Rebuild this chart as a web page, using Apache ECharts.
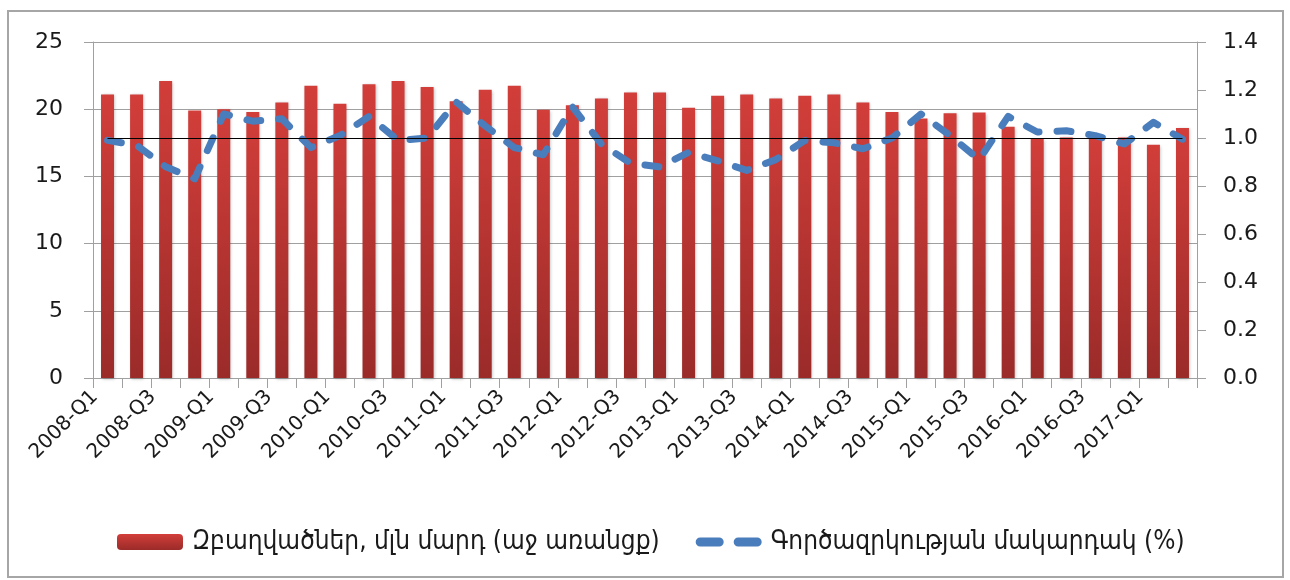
<!DOCTYPE html>
<html>
<head>
<meta charset="utf-8">
<script src="https://cdn.jsdelivr.net/npm/echarts@6/dist/echarts.min.js"></script>
<style>
  html, body { margin: 0; padding: 0; background: #fff; }
  #chart { width: 1290px; height: 580px; }
</style>
</head>
<body>
<div id="chart"></div>
<script>
// quarters 2008-Q1 .. 2017-Q2
var quarters = [];
for (var y = 2008; y <= 2017; y++) {
    for (var q = 1; q <= 4; q++) {
        if (y === 2017 && q > 2) break;
        quarters.push(y + "-Q" + q);
    }
}

// Զբաղվածներ, մլն մարդ (left axis)
var employed = [
    21.1, 21.1, 22.1, 19.9, 20.0, 19.8, 20.5, 21.75, 20.4, 21.85,
    22.1, 21.65, 20.6, 21.45, 21.75, 19.95, 20.3, 20.8, 21.25, 21.25,
    20.1, 21.0, 21.1, 20.8, 21.0, 21.1, 20.5, 19.8, 19.3, 19.7,
    19.75, 18.7, 17.8, 17.9, 18.0, 17.9, 17.35, 18.6
];

// Գործազրկության մակարդակ (%) (right axis)
var unemployment = [
    0.99, 0.97, 0.88, 0.83, 1.10, 1.07, 1.08, 0.96, 1.01, 1.09,
    0.99, 1.00, 1.15, 1.05, 0.96, 0.93, 1.13, 0.975, 0.895, 0.88,
    0.94, 0.905, 0.865, 0.91, 0.99, 0.98, 0.955, 1.00, 1.10, 1.01,
    0.91, 1.09, 1.025, 1.03, 1.01, 0.975, 1.065, 0.995
];

var legendNames = ["Զբաղվածներ, մլն մարդ (աջ առանցք)", "Գործազրկության մակարդակ (%)"];

var chart = echarts.init(document.getElementById("chart"));

var textColor = "#1a1a1a";
var font = "DejaVu Sans";
var lineBlue = "#4a7dbb";

// two rounded dashes for the legend icon of the line
var dashIcon = "path://M4.5,0 H23.5 A4.5,4.5 0 0 1 23.5,9 H4.5 A4.5,4.5 0 0 1 4.5,0 Z " +
               "M42.5,0 H61.5 A4.5,4.5 0 0 1 61.5,9 H42.5 A4.5,4.5 0 0 1 42.5,0 Z";

var option = {
    backgroundColor: "#fff",
    animation: false,
    graphic: [{
        type: "rect",
        shape: { x: 8, y: 11, width: 1275, height: 566 },
        style: { fill: "none", stroke: "#a6a6a6", lineWidth: 2 },
        silent: true
    }],
    grid: { left: 93, right: 93, top: 42, bottom: 202 },
    legend: {
        bottom: 20,
        left: 112,
        itemWidth: 66,
        itemHeight: 16,
        itemGap: 36,
        textStyle: { fontFamily: "DejaVu Sans Condensed", fontSize: 26, color: textColor, padding: [0, 0, 0, 4] },
        data: [
            { name: legendNames[0] },
            { name: legendNames[1], icon: dashIcon, itemStyle: { color: lineBlue } }
        ]
    },
    xAxis: {
        type: "category",
        data: quarters,
        axisLine: { lineStyle: { color: "#a0a0a0", width: 1 } },
        axisTick: { show: true, length: 10, interval: 0, lineStyle: { color: "#a0a0a0" } },
        axisLabel: {
            interval: 1,
            rotate: 45,
            margin: 3,
            padding: [0, 18, 0, 0],
            fontFamily: font,
            fontSize: 20,
            color: textColor
        }
    },
    yAxis: [
        {
            type: "value",
            min: 0,
            max: 25,
            interval: 5,
            axisLine: { show: true, lineStyle: { color: "#a0a0a0" } },
            axisTick: { show: true, length: 9, lineStyle: { color: "#a0a0a0" } },
            splitLine: { show: true, lineStyle: { color: "#a0a0a0", width: 1 } },
            axisLabel: { margin: 30, fontFamily: font, fontSize: 22, color: textColor }
        },
        {
            type: "value",
            min: 0,
            max: 1.4,
            interval: 0.2,
            position: "right",
            axisLine: { show: true, lineStyle: { color: "#a0a0a0" } },
            axisTick: { show: true, length: 9, lineStyle: { color: "#a0a0a0" } },
            splitLine: { show: false },
            axisLabel: {
                margin: 26,
                fontFamily: font,
                fontSize: 22,
                color: textColor,
                formatter: function (v) { return v.toFixed(1); }
            }
        }
    ],
    series: [
        {
            name: legendNames[0],
            type: "bar",
            yAxisIndex: 0,
            barWidth: 13,
            data: employed,
            itemStyle: {
                color: new echarts.graphic.LinearGradient(0, 0, 0, 1, [
                    { offset: 0, color: "#d23e3a" },
                    { offset: 1, color: "#9a2b29" }
                ]),
                shadowBlur: 3,
                shadowColor: "rgba(0,0,0,0.25)",
                shadowOffsetX: 1,
                shadowOffsetY: 1
            }
        },
        {
            name: legendNames[1],
            type: "line",
            yAxisIndex: 1,
            data: unemployment,
            symbol: "none",
            lineStyle: {
                color: lineBlue,
                width: 7,
                type: [14, 18],
                cap: "round",
                join: "round"
            },
            itemStyle: { color: lineBlue },
            z: 3,
            markLine: {
                silent: true,
                symbol: "none",
                label: { show: false },
                lineStyle: { color: "#000", width: 1, type: "solid" },
                data: [[{ coord: [0, 1] }, { coord: [quarters.length - 1, 1] }]]
            }
        }
    ]
};

chart.setOption(option);
</script>
</body>
</html>
